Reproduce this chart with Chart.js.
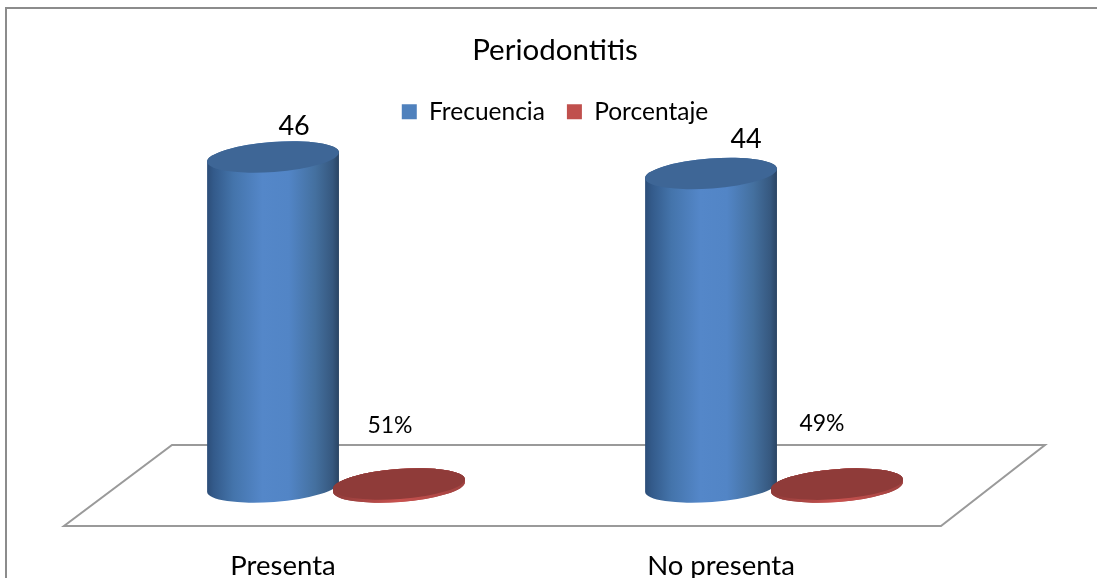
<!DOCTYPE html>
<html><head><meta charset="utf-8">
<style>html,body{margin:0;padding:0;background:#fff;overflow:hidden}#w{position:relative;width:1097px;height:578px}</style>
<script src="https://cdn.jsdelivr.net/npm/chart.js@4/dist/chart.umd.min.js"></script>
</head><body><div id="w"><canvas id="c" width="1097" height="578"></canvas></div>
<script>
const categories = ['Presenta', 'No presenta'];
const frecuencia = [46, 44];
const porcentaje = [0.51, 0.49];
const AXIS_MIN = 6;
const FONT = 'Lato, Carlito, sans-serif';
const TILT = -4.3 * Math.PI / 180, RY = 15;

function shade(ctx, x, w, stops) {
  const g = ctx.createLinearGradient(x - w / 2, 0, x + w / 2, 0);
  stops.forEach(s => g.addColorStop(s[0], s[1]));
  return g;
}
const BLUE_SIDE = [[0,'#2c4d78'],[0.05,'#335a8a'],[0.2,'#4474ab'],[0.42,'#5487c9'],[0.62,'#5285c6'],[0.82,'#44709f'],[0.95,'#36587f'],[1,'#2a4463']];
const RED_SIDE = [[0,'#8f3b39'],[0.5,'#c8524f'],[1,'#a04240']];

// Cylinder look for the library's own bar elements
Chart.BarElement.prototype.draw = function (ctx) {
  const { x, y, base, width } = this.getProps(['x', 'y', 'base', 'width']);
  const red = this.options.backgroundColor === '#c0504d';
  const rx = width / 2;
  ctx.save();
  ctx.beginPath();
  ctx.ellipse(x, base, rx, RY, TILT, Math.PI, 0, true);
  ctx.ellipse(x, y, rx, RY, TILT, 0, Math.PI, true);
  ctx.closePath();
  ctx.fillStyle = shade(ctx, x, width, red ? RED_SIDE : BLUE_SIDE);
  ctx.fill();
  ctx.beginPath();
  ctx.ellipse(x, y, rx, RY, TILT, 0, Math.PI * 2);
  ctx.fillStyle = red ? '#8f3b39' : '#3e6696';
  ctx.fill();
  ctx.restore();
};

const dddPlugin = {
  id: 'ddd',
  beforeDraw(chart) {
    const c = chart.ctx;
    c.save();
    c.strokeStyle = '#8c8c8c'; c.lineWidth = 2;
    c.beginPath(); c.moveTo(6, 578); c.lineTo(6, 8); c.lineTo(1097, 8); c.stroke();
    c.restore();
  },
  beforeDatasetsDraw(chart) {
    const { left, right, bottom } = chart.chartArea, c = chart.ctx;
    c.save();
    c.beginPath();
    c.moveTo(left - 53, bottom + 39);
    c.lineTo(right - 52, bottom + 39);
    c.lineTo(right + 52, bottom - 42);
    c.lineTo(left + 55, bottom - 42);
    c.closePath();
    c.fillStyle = '#fff'; c.fill();
    c.strokeStyle = '#9a9a9a'; c.lineWidth = 2; c.stroke();
    c.restore();
  },
  afterDatasetsDraw(chart) {
    const c = chart.ctx;
    const meta0 = chart.getDatasetMeta(0).data, meta1 = chart.getDatasetMeta(1).data;
    meta1.forEach(el => el.draw(c)); // red discs sit in front of the blue cylinders
    const nudgeA = [[21, -31], [35, -34]], nudgeB = [[-9, -58], [-15, -61]];
    c.save();
    c.fillStyle = '#000'; c.textAlign = 'center'; c.textBaseline = 'middle';
    c.font = '27px ' + FONT;
    meta0.forEach((el, i) => c.fillText(String(frecuencia[i]), el.x + nudgeA[i][0], el.y + nudgeA[i][1]));
    c.font = '23px ' + FONT;
    meta1.forEach((el, i) => c.fillText(Math.round(porcentaje[i] * 100) + '%', el.x + nudgeB[i][0], el.y + nudgeB[i][1]));
    c.restore();
  }
};

new Chart(document.getElementById('c'), {
  type: 'bar',
  data: {
    labels: categories,
    datasets: [
      { label: 'Frecuencia', data: frecuencia, base: AXIS_MIN, backgroundColor: '#4f81bd', yAxisID: 'y', clip: false },
      { label: 'Porcentaje', data: porcentaje, backgroundColor: '#c0504d', yAxisID: 'y1', clip: false }
    ]
  },
  options: {
    responsive: false, animation: false,
    layout: { padding: { left: 117, right: 104, top: 33, bottom: 0 } },
    categoryPercentage: 0.575, barPercentage: 1.05,
    plugins: {
      title: { display: true, text: 'Periodontitis', color: '#000', font: { family: FONT, size: 29.5, weight: 'normal' }, padding: { top: 0, bottom: 9 } },
      legend: { position: 'top', labels: { color: '#000', boxWidth: 15, boxHeight: 15, padding: 22, font: { family: FONT, size: 24.5 } } },
      tooltip: { enabled: false }
    },
    scales: {
      x: { grid: { display: false }, border: { display: false }, afterFit(s) { s.height = 91; }, ticks: { color: '#000', labelOffset: -53, padding: 55, maxRotation: 0, font: { family: FONT, size: 27.5 } } },
      y: { display: false, min: AXIS_MIN, max: 48.8 },
      y1: { display: false, min: 0, max: 60 }
    }
  },
  plugins: [dddPlugin]
});
</script></body></html>
